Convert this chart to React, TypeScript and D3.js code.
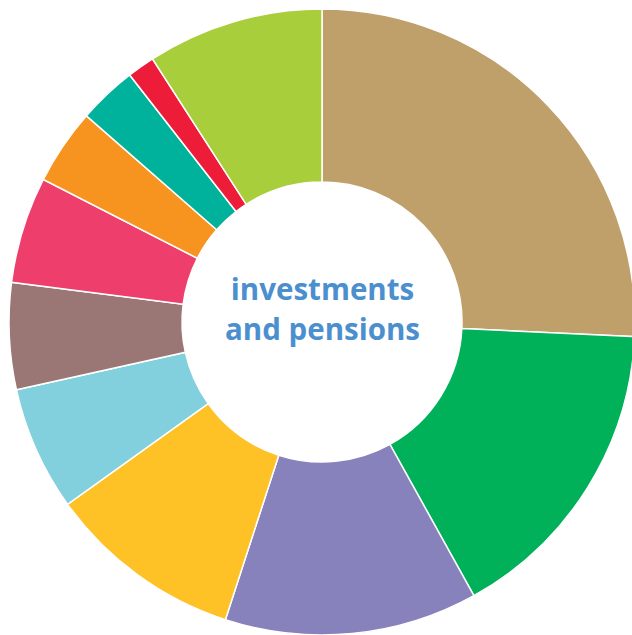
import React from "react";
import * as d3 from "d3";

const categories = ["A", "B", "C", "D", "E", "F", "G", "H", "I", "J", "K"];
const values = [25.75, 16.19, 13.06, 10.11, 6.42, 5.5, 5.5, 3.92, 3.03, 1.42, 9.11];
const colors = [
  "#BFA06B", "#00B15A", "#8781BC", "#FEC126", "#82D0DD", "#9A7774",
  "#EE3F6C", "#F7941F", "#00B29B", "#ED1C39", "#A8CE3C",
];
const centerLines = ["investments", "and pensions"];

export default function App() {
  const W = 632, H = 635;
  const cx = 322, cy = 322;
  const outer = 313, inner = 140;
  const data = categories.map((c, i) => ({ c, v: values[i], color: colors[i] }));
  const pie = d3.pie<any>().value((d: any) => d.v).sort(null);
  const arc = d3.arc<any>().innerRadius(inner).outerRadius(outer);
  const arcs = pie(data);
  return (
    <svg width={W} height={H} style={{ position: "absolute", left: 0, top: 0 }}>
      <g transform={`translate(${cx},${cy})`}>
        {arcs.map((a, i) => (
          <path key={i} d={arc(a) as string} fill={a.data.color} stroke="#fff" strokeWidth={1.5} />
        ))}
        {centerLines.map((t, i) => (
          <text
            key={i}
            x={0.5}
            y={-22 + i * 40}
            textAnchor="middle"
            fontFamily="'Open Sans', sans-serif"
            fontWeight="bold"
            fontSize={29.5}
            fill="#4C8FCF"
          >
            {t}
          </text>
        ))}
      </g>
    </svg>
  );
}
